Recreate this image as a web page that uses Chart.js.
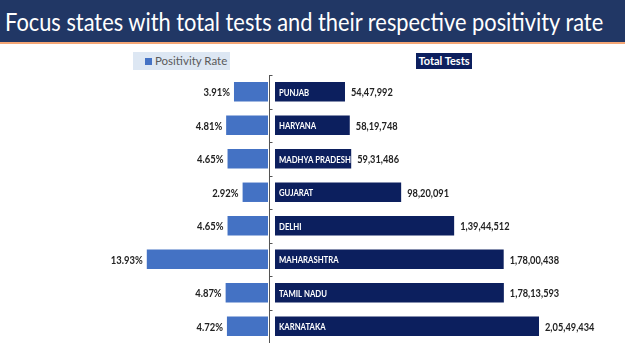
<!DOCTYPE html>
<html>
<head>
<meta charset="utf-8">
<script src="https://cdn.jsdelivr.net/npm/chart.js@4.4.1/dist/chart.umd.min.js"></script>
<style>
body { margin:0; width:625px; height:351px; background:#fff; position:relative; overflow:hidden; font-family:Lato, "Open Sans", sans-serif; }
#title { position:absolute; left:0; top:0; width:625px; height:42px; background:#213765; border-bottom:2px solid #f4a675; }
#title span { position:absolute; left:5px; top:6px; color:#fff; font-size:25px; white-space:nowrap; transform-origin:0 0; }
#legL { position:absolute; left:133px; top:52px; width:97px; height:18px; background:#dde7f3; color:#5a5a5a; font-size:11.5px; white-space:nowrap; }
#legL i { position:absolute; left:12px; top:6px; width:7px; height:7px; background:#4472c4; }
#legL span { position:absolute; left:22px; top:2px; }
#legR { position:absolute; left:416px; top:53px; width:56px; height:16px; background:#0c1f5e; color:#fff; font-size:11px; font-weight:bold; text-align:center; line-height:16px; white-space:nowrap; }
#left { position:absolute; left:0; top:75px; }
#right { position:absolute; left:265px; top:75px; }
</style>
</head>
<body>
<div id="title"><span id="ttext">Focus states with total tests and their respective positivity rate</span></div>
<div id="legL"><i></i><span>Positivity Rate</span></div>
<div id="legR">Total Tests</div>
<canvas id="left" width="268" height="268"></canvas>
<canvas id="right" width="360" height="268"></canvas>
<script>
let states = ['PUNJAB', 'HARYANA', 'MADHYA PRADESH', 'GUJARAT', 'DELHI', 'MAHARASHTRA', 'TAMIL NADU', 'KARNATAKA'];
let positivity = [3.91, 4.81, 4.65, 2.92, 4.65, 13.93, 4.87, 4.72];
let totalTests = [5447992, 5819748, 5931486, 9820091, 13944512, 17800438, 17813593, 20549434];

// squeeze title to the width it has in the slide
let tt = document.getElementById('ttext');
tt.style.transform = 'scaleX(' + (598 / tt.offsetWidth) + ')';

function indianFormat(n) {
    let s = String(n);
    let last3 = s.slice(-3);
    let rest = s.slice(0, -3);
    if (rest.length > 0) {
        rest = rest.replace(/\B(?=(\d{2})+(?!\d))/g, ',');
        return rest + ',' + last3;
    }
    return last3;
}

// narrow text, the slide used Calibri
function narrowText(ctx, text, x, y, align, font, sx) {
    ctx.save();
    ctx.font = font;
    ctx.textAlign = align;
    ctx.translate(x, y);
    ctx.scale(sx, 1);
    ctx.fillText(text, 0, 0);
    ctx.restore();
}

// value labels next to each bar
let labelPlugin = {
    id: 'labels',
    afterDatasetsDraw(chart) {
        let ctx = chart.ctx;
        let meta = chart.getDatasetMeta(0);
        let side = chart.options.plugins.labels.side;
        ctx.save();
        ctx.textBaseline = 'middle';
        meta.data.forEach((bar, i) => {
            if (side == 'left') {
                ctx.fillStyle = '#222';
                narrowText(ctx, positivity[i].toFixed(2) + '%', bar.x - 4, bar.y + 1, 'right', 'bold 11px Lato', 0.86);
            } else {
                ctx.fillStyle = '#222';
                narrowText(ctx, indianFormat(totalTests[i]), bar.x + 6, bar.y + 1, 'left', 'bold 11px Lato', 0.84);
                ctx.fillStyle = '#fff';
                narrowText(ctx, states[i], bar.base + 4, bar.y + 1, 'left', 'bold 9px Lato', 0.86);
            }
        });
        if (side == 'right') {
            // vertical axis line with small ticks at category boundaries
            let y = chart.scales.y;
            let ax = chart.chartArea.left - 5.5;
            ctx.strokeStyle = '#555';
            ctx.lineWidth = 1;
            ctx.beginPath();
            ctx.moveTo(ax, chart.chartArea.top);
            ctx.lineTo(ax, chart.chartArea.bottom);
            for (let i = 0; i < states.length; i++) {
                let ty = Math.round(y.getPixelForValue(i - 0.5)) + 0.5;
                ctx.moveTo(ax, ty);
                ctx.lineTo(ax + 3, ty);
            }
            ctx.stroke();
        }
        ctx.restore();
    }
};

let common = {
    indexAxis: 'y',
    responsive: false,
    animation: false,
    maintainAspectRatio: false,
};

new Chart(document.getElementById('left').getContext('2d'), {
    type: 'bar',
    data: {
        labels: states,
        datasets: [{
            label: 'Positivity Rate',
            data: positivity,
            backgroundColor: '#4472c4',
            categoryPercentage: 1,
            barPercentage: 0.58,
        }]
    },
    options: Object.assign({}, common, {
        layout: { padding: 0 },
        scales: {
            x: { display: false, reverse: true, min: 0, max: 30.8 },
            y: { display: false }
        },
        plugins: { legend: { display: false }, tooltip: { enabled: false }, labels: { side: 'left' } }
    }),
    plugins: [labelPlugin]
});

new Chart(document.getElementById('right').getContext('2d'), {
    type: 'bar',
    data: {
        labels: states,
        datasets: [{
            label: 'Total Tests',
            data: totalTests,
            backgroundColor: '#0c1f5e',
            categoryPercentage: 1,
            barPercentage: 0.58,
        }]
    },
    options: Object.assign({}, common, {
        layout: { padding: { left: 10, right: 0, top: 0, bottom: 0 } },
        scales: {
            x: { display: false, min: 0, max: 27243000 },
            y: { display: false }
        },
        plugins: { legend: { display: false }, tooltip: { enabled: false }, labels: { side: 'right' } }
    }),
    plugins: [labelPlugin]
});
</script>
</body>
</html>
